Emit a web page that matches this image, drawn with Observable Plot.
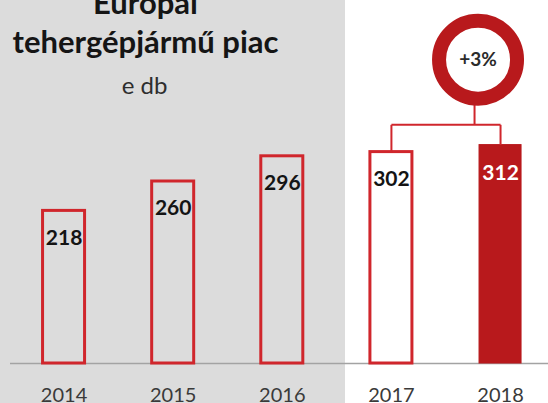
<!DOCTYPE html>
<html>
<head>
<meta charset="utf-8">
<script src="https://cdn.jsdelivr.net/npm/d3@7"></script>
<script src="https://cdn.jsdelivr.net/npm/@observablehq/plot@0.6"></script>
<style>
  html, body { margin: 0; padding: 0; background: #ffffff; }
  #chart svg { display: block; }
</style>
</head>
<body>
<div id="chart"></div>
<script>
// ---- data ----
const years = ["2014", "2015", "2016", "2017", "2018"];
const values = [218, 260, 296, 302, 312];
const titleLines = ["Európai", "tehergépjármű piac"];
const unitLabel = "e db";
const highlightYear = "2018";
const growthFrom = "2017";
const growthTo = "2018";
const growthLabel = "+3%";

// ---- build table ----
const data = years.map((year, i) => ({year, value: values[i], highlight: year === highlightYear}));
const plain = data.filter(d => !d.highlight);
const hot = data.filter(d => d.highlight);
const valueOf = y => values[years.indexOf(y)];

// annotation levels (in value units of the y scale)
const bracketLevel = 341;
const circleLevel = 434;

const RED = "#d0262c";
const DARK = "#b8191c";
const FONT = "Lato, 'Open Sans', sans-serif";

const chart = Plot.plot({
  width: 548,
  height: 403,
  marginTop: 0,
  marginRight: 0,
  marginBottom: 40,
  marginLeft: 0,
  style: {
    background: "linear-gradient(to right, #dcdcdc 0px, #dcdcdc 345px, #ffffff 345px)",
    fontFamily: FONT,
    overflow: "visible"
  },
  x: {domain: years, range: [9, 554.6], paddingInner: 0.615, paddingOuter: 0.3075, round: false, axis: null},
  y: {domain: [0, 500], range: [363, 13], axis: null},
  marks: [
    // baseline
    Plot.ruleY([0], {stroke: "#a3a3a3", strokeWidth: 1.3, insetLeft: 10}),
    // bars
    Plot.barY(plain, {x: "year", y: "value", fill: "none", stroke: RED, strokeWidth: 3}),
    Plot.barY(hot, {x: "year", y: "value", fill: DARK, stroke: DARK, strokeWidth: 1}),
    // value labels
    Plot.text(plain, {x: "year", y: "value", text: d => String(d.value), dy: 27,
      fill: "#141414", fontWeight: "bold", fontSize: 21}),
    Plot.text(hot, {x: "year", y: "value", text: d => String(d.value), dy: 28,
      fill: "#ffffff", fontWeight: "bold", fontSize: 21}),
    // bracket
    Plot.link([growthFrom, growthTo], {x1: d => d, x2: d => d, y1: d => valueOf(d), y2: bracketLevel,
      stroke: RED, strokeWidth: 2}),
    Plot.link([growthLabel], {x1: () => growthFrom, x2: () => growthTo, y1: bracketLevel, y2: bracketLevel,
      stroke: RED, strokeWidth: 2}),
    Plot.link([growthLabel], {x1: () => growthTo, x2: () => growthTo, y1: bracketLevel, y2: circleLevel,
      stroke: RED, strokeWidth: 2, dx: -26}),
    // growth ring
    Plot.dot([growthLabel], {x: () => growthTo, y: circleLevel, r: 39, fill: "#ffffff",
      stroke: DARK, strokeWidth: 14, dx: -22.5}),
    Plot.text([growthLabel], {x: () => growthTo, y: circleLevel, text: d => d, dx: -22.5,
      fill: "#2b2b2b", fontWeight: "bold", fontSize: 19}),
    // title
    Plot.text([titleLines[0]], {frameAnchor: "top-left", dx: 145, dy: 13, text: d => d,
      lineAnchor: "bottom", textAnchor: "middle", fontWeight: "bold", fontSize: 31, fill: "#151515"}),
    Plot.text([titleLines[1]], {frameAnchor: "top-left", dx: 145, dy: 52, text: d => d,
      lineAnchor: "bottom", textAnchor: "middle", fontWeight: "bold", fontSize: 31, fill: "#151515"}),
    Plot.text([unitLabel], {frameAnchor: "top-left", dx: 144, dy: 93, text: d => d,
      lineAnchor: "bottom", textAnchor: "middle", fontSize: 24, fill: "#2e2e2e"}),
    // x axis
    Plot.axisX({tickSize: 0, tickPadding: 24, fontSize: 20, fill: "#3a3a3a", label: null})
  ]
});
document.getElementById("chart").appendChild(chart);
</script>
</body>
</html>
